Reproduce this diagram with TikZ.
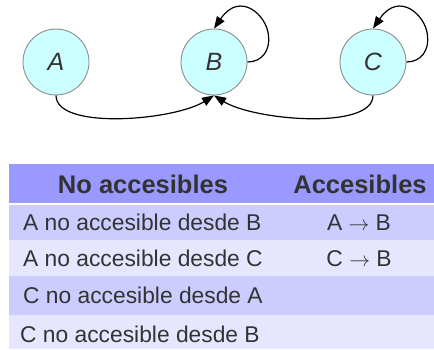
\documentclass[tikz,border=0pt]{standalone}
\usepackage{fontspec}
\setmainfont{Liberation Sans}
\usetikzlibrary{arrows.meta}
\definecolor{nodefill}{HTML}{CCFFFF}
\definecolor{nodeline}{HTML}{8C8C8C}
\definecolor{txt}{HTML}{333333}
\definecolor{headbg}{HTML}{9999FF}
\definecolor{rowa}{HTML}{CCCCFF}
\definecolor{rowb}{HTML}{E6E6FF}
\begin{document}
\begin{tikzpicture}[x=1pt,y=-1pt,
  state/.style={circle,draw=nodeline,line width=0.9pt,fill=nodefill,minimum size=66pt,inner sep=0pt,
    text=txt,font=\fontsize{25}{30}\selectfont\itshape},
  edge/.style={line width=1.2pt,-{Triangle[length=12pt,width=9pt]}},
  headtxt/.style={text=txt,font=\fontsize{25.5}{30}\selectfont\bfseries,inner sep=0pt},
  celltxt/.style={text=txt,font=\fontsize{22.8}{27}\selectfont,inner sep=0pt}]
\useasboundingbox (0,0) rectangle (434,349);
\node[state] (A) at (56,62) {A};
\node[state] (B) at (214,62) {B};
\node[state] (C) at (373,62) {C};
\draw[edge] (B.east) .. controls +(15,0) and +(2,15) .. ++(21,-27)
  .. controls +(-2,-20) and +(26,-38) .. (B.north);
\draw[edge] (C.east) .. controls +(15,0) and +(2,15) .. ++(21,-27)
  .. controls +(-2,-20) and +(26,-38) .. (C.north);
\draw[edge] (A.south) .. controls +(0,35) and +(-40,25) .. (B.south);
\draw[edge] (C.south) .. controls +(0,35) and +(40,25) .. (B.south);
% table
\fill[headbg] (9,164) rectangle (434,203);
\fill[rowa] (9,205) rectangle (434,240);
\fill[rowb] (9,240) rectangle (434,276);
\fill[rowa] (9,276) rectangle (434,315);
\fill[rowb] (9,315) rectangle (434,349);
\node[headtxt] (h1) at (143,184) {No accesibles};
\node[headtxt] (h2) at (360,184) {Accesibles};
\node[celltxt,anchor=west] (r1) at (23,222.5) {A no accesible desde B};
\node[celltxt,anchor=west] (r2) at (23,258.5) {A no accesible desde C};
\node[celltxt,anchor=west] (r3) at (23,295.5) {C no accesible desde A};
\node[celltxt,anchor=west] (r4) at (20,334.5) {C no accesible desde B};
\node[celltxt] (s1) at (359,222.5) {A $\rightarrow$ B};
\node[celltxt] (s2) at (359,258.5) {C $\rightarrow$ B};
\end{tikzpicture}
\end{document}
